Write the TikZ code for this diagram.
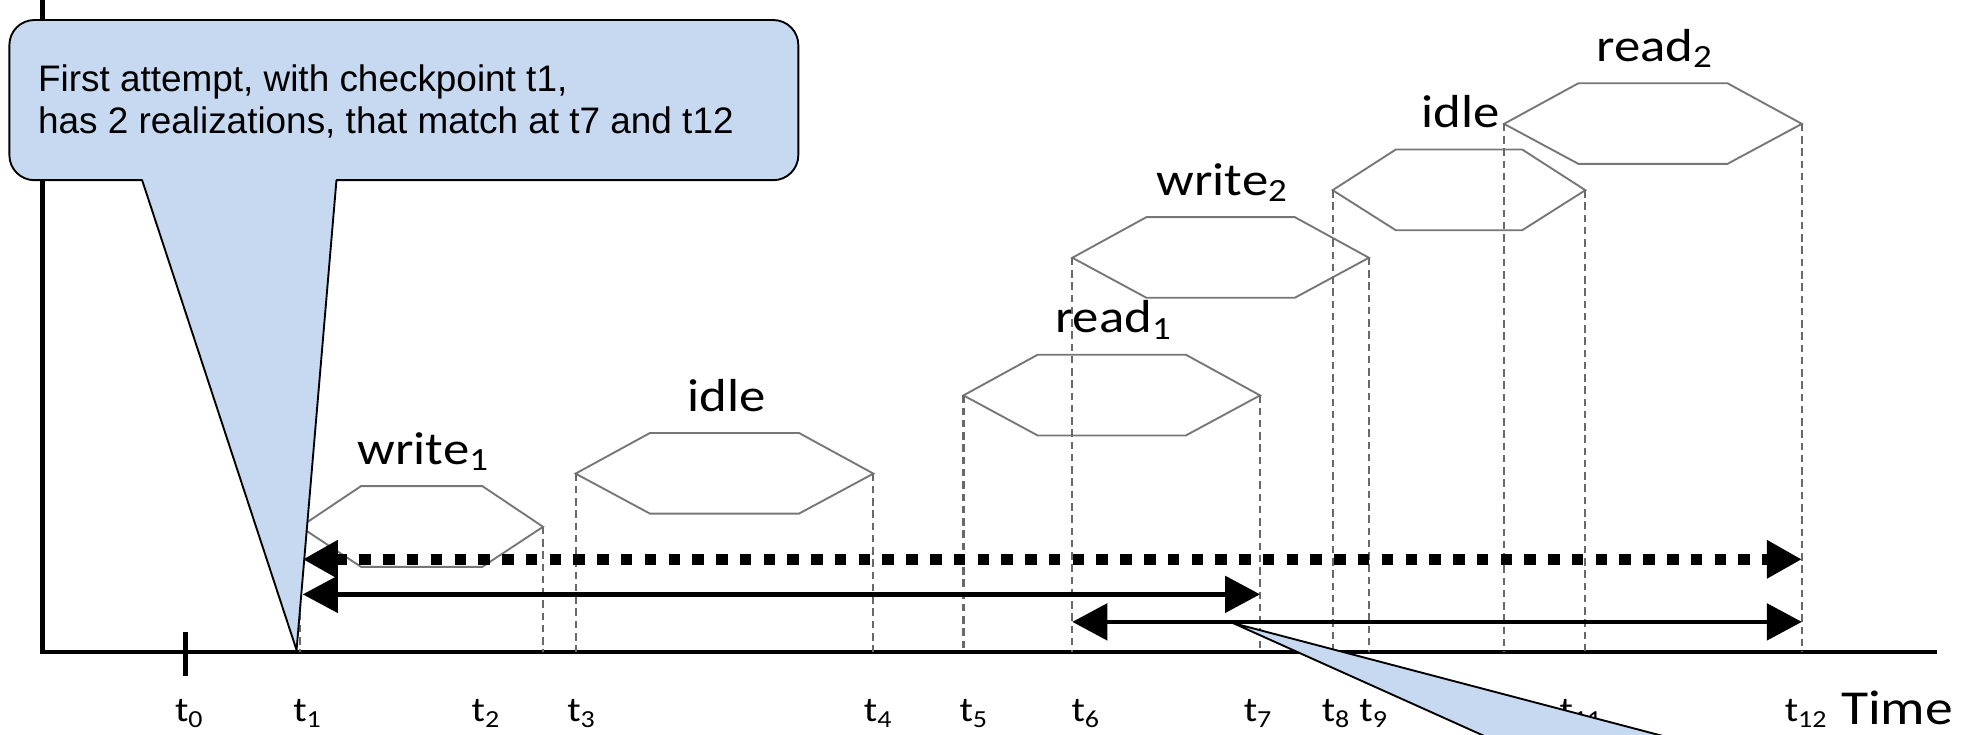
\documentclass[tikz,border=0pt]{standalone}
\usepackage{fontspec}
\usepackage{graphicx}
\setmainfont{Carlito}
\newfontfamily\notefont{Liberation Sans}
\usetikzlibrary{arrows.meta,calc}

\definecolor{calloutblue}{RGB}{198,217,240}
\definecolor{hexgray}{RGB}{118,118,118}
\definecolor{guidegray}{RGB}{105,105,105}

% the labels of the timing chart are set slightly wide
\newcommand{\widetext}[1]{\scalebox{1.14}[1]{#1}}

\tikzset{
  phase/.style={draw=hexgray, line width=0.75pt, line join=miter},
  guide/.style={draw=guidegray, line width=0.85pt, dash pattern=on 3pt off 1.9pt},
  axisline/.style={line width=1.9pt},
  bigtip/.tip={Triangle[length=14pt,width=14.5pt]},
  span/.style={line width=1.8pt, bigtip-bigtip},
  dotspan/.style={line width=4.3pt, dash pattern=on 4.6pt off 4.9pt, bigtip-bigtip},
  phaselabel/.style={font=\fontsize{18.5}{20}\selectfont, anchor=base, inner sep=0pt},
  ticklabel/.style={font=\fontsize{14}{16}\selectfont, anchor=base west, inner sep=0pt},
  callout/.style={fill=calloutblue, draw=black, line width=0.75pt, line join=round},
  notetext/.style={font=\notefont\fontsize{14.75}{17}\selectfont, anchor=base west, inner sep=0pt},
}

\begin{document}
\begin{tikzpicture}[x=0.5pt,y=-0.5pt]
\useasboundingbox (0,0) rectangle (1568,587);

% axes
\coordinate (ytop) at (34,0);
\coordinate (O) at (34,521);
\coordinate (xend) at (1548,521);
\draw[axisline] (ytop) -- (O) -- (xend);
\coordinate (t0a) at (148,505);
\coordinate (t0b) at (148,540);
\draw[axisline] (t0a) -- (t0b);

% operation phases: hexagon between two instants, label above
\foreach \n/\l/\r/\y/\txt in {
    w1/240/434/421/write\textsubscript{1},
    i1/460/698/378.5/idle,
    r1/770/1007/316/read\textsubscript{1},
    w2/857/1094/206/write\textsubscript{2},
    i2/1065/1267/152/idle,
    r2/1202/1440/99/read\textsubscript{2}} {
  \pgfmathsetmacro\dx{0.25*(\r-\l)}
  \coordinate (\n L) at (\l,\y);
  \coordinate (\n R) at (\r,\y);
  \draw[phase] (\n L) -- (\l+\dx,\y-32.5) -- (\r-\dx,\y-32.5) -- (\n R)
    -- (\r-\dx,\y+32) -- (\l+\dx,\y+32) -- cycle;
  \node[phaselabel] (lab\n) at ({(\l+\r)/2+1.5},\y-50) {\widetext{\txt}};
  \draw[guide] (\n L) -- (\n L |- O);
  \draw[guide] (\n R) -- (\n R |- O);
}

% instants on the time axis
\foreach \k/\x in {0/139.5,1/234,2/376.6,3/453,4/690,5/766.5,6/856,7/993.6,8/1056,9/1086,11/1246,12/1426} {
  \node[ticklabel] (lt\k) at (\x,577) {\widetext{t\textsubscript{\k}}};
}
\node[anchor=base west, inner sep=0pt, font=\fontsize{19.5}{22}\selectfont] (timelab) at (1471,579) {\widetext{Time}};

% first callout
\draw[callout] (268.9,144) -- (618,144) arc[start angle=90, end angle=0, radius=20]
  -- (638,36) arc[start angle=0, end angle=-90, radius=20]
  -- (27.5,16) arc[start angle=-90, end angle=-180, radius=20]
  -- (7.5,124) arc[start angle=180, end angle=90, radius=20]
  -- (113.6,144) -- (237,519.5) -- cycle;
\node[notetext] (note1) at (30,73) {First attempt, with checkpoint t1,};
\node[notetext] (note2) at (30,107) {has 2 realizations, that match at t7 and t12};

% realizations
\coordinate (d1) at (242,447);
\coordinate (d2) at (1440,447);
\coordinate (s1a) at (242,475);
\coordinate (s1b) at (1007,475);
\coordinate (s2a) at (857,497);
\coordinate (s2b) at (1440,497);
\draw[dotspan] (d1) -- (d2);
\draw[span] (s1a) -- (s1b);
\draw[span] (s2a) -- (s2b);

% second callout, its box lies below the visible area
\begin{scope}
  \clip (0,0) rectangle (1568,587);
  \coordinate (tip2) at (985.5,498);
  \draw[callout] (tip2) -- (1257,620) -- (1450,620) -- cycle;
\end{scope}
\end{tikzpicture}
\end{document}
